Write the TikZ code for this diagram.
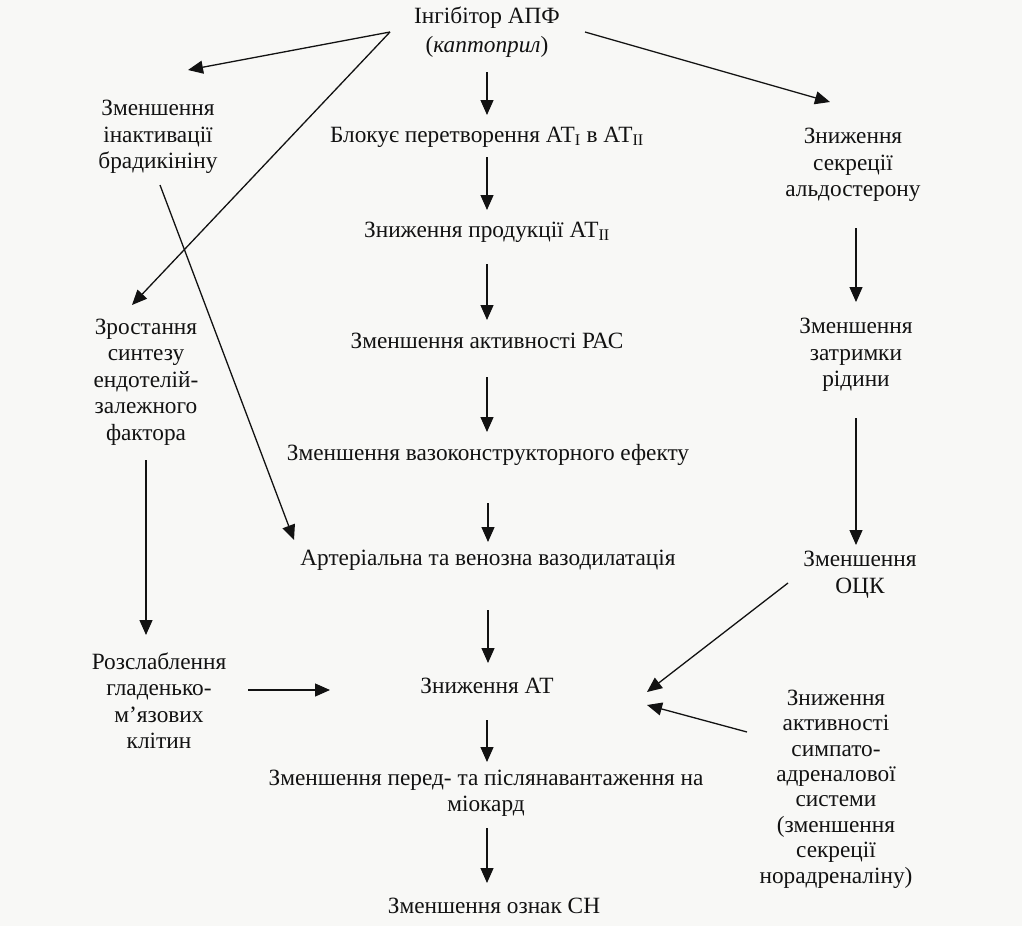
\documentclass[tikz,border=0pt]{standalone}
\usepackage{fontspec}
\setmainfont{Liberation Serif}
\usetikzlibrary{calc,arrows.meta}
\definecolor{ink}{HTML}{121212}
\definecolor{paper}{HTML}{F8F8F6}
\begin{document}
\begin{tikzpicture}[x=1pt,y=-1pt,
  lbl/.style={inner sep=0pt,align=center,text=ink,
    font=\fontsize{23.3}{26.5}\selectfont},
  lblsm/.style={lbl,font=\fontsize{23.3}{25.4}\selectfont},
  arr/.style={draw=ink,line width=1.3pt,-{Triangle[length=15pt,width=13pt]}}]
\fill[paper] (0,0) rectangle (1022,926);
\useasboundingbox (0,0) rectangle (1022,926);

% central chain
\node[lbl] (top)  at (487,32)  {Інгібітор АПФ\\[2pt](\textit{каптоприл})};
\node[lbl] (blok) at (487,137) {Блокує перетворення АТ\textsubscript{I} в АТ\textsubscript{II}};
\node[lbl] (prod) at (487,232) {Зниження продукції АТ\textsubscript{II}};
\node[lbl] (ras)  at (487,341) {Зменшення активності РАС};
\node[lbl] (vaso) at (488,455) {Зменшення вазоконструкторного ефекту};
\node[lbl] (dil)  at (488,560) {Артеріальна та венозна вазодилатація};
\node[lbl] (at)   at (487,686) {Зниження АТ};
\node[lbl] (load) at (486,793) {Зменшення перед- та післянавантаження на\\міокард};
\node[lbl] (cn)   at (494,906) {Зменшення ознак СН};

% left branch
\node[lbl] (inakt) at (158,137) {Зменшення\\інактивації\\брадикініну};
\node[lbl] (rost)  at (146,382) {Зростання\\синтезу\\ендотелій-\\залежного\\фактора};
\node[lbl] (rozsl) at (159,701) {Розслаблення\\гладенько-\\м’язових\\клітин};

% right branch
\node[lbl] (aldo) at (853,165) {Зниження\\секреції\\альдостерону};
\node[lbl] (zatr) at (856,355) {Зменшення\\затримки\\рідини};
\node[lbl] (ock)  at (860,575) {Зменшення\\ОЦК};
\node[lblsm] (symp) at (836,789) {Зниження\\активності\\симпато-\\адреналової\\системи\\(зменшення\\секреції\\норадреналіну)};

% junction points beside the top node
\coordinate (apexL) at ($(top.center)+(-97,0)$);
\coordinate (apexR) at ($(top.center)+(98,0)$);

% vertical chain arrows
\path[arr,shorten <=40pt,shorten >=22pt] (top.center) -- (top.center |- blok.center);
\path[arr,shorten <=20pt,shorten >=22pt] (blok.center -| prod.center) -- (prod.center);
\path[arr,shorten <=32pt,shorten >=21pt] (prod.center) -- (ras.center);
\path[arr,shorten <=36pt,shorten >=23pt] (ras.center) -- (ras.center |- vaso.center);
\path[arr,shorten <=48pt,shorten >=18pt] (vaso.center) -- (vaso.center |- dil.center);
\path[arr,shorten <=50pt,shorten >=23pt] (dil.center) -- (dil.center |- at.center);
\path[arr,shorten <=34pt,shorten >=31pt] (at.center) -- (at.center |- load.center);
\path[arr,shorten <=35pt,shorten >=23pt] (at.center |- load.center) -- (at.center |- cn.center);

% left side
\path[arr] (apexL) -- ($(inakt.center)+(30,-67)$);
\path[arr] (apexL) -- ($(rost.center)+(-14,-77)$);
\path[arr] ($(inakt.center)+(2,48)$) -- ($(dil.center)+(-194,-20)$);
\path[arr] ($(rost.center)+(0,78)$) -- ($(rozsl.center)+(-13,-66)$);
\path[arr] ($(rozsl.center)+(89,-11)$) -- ($(at.center)+(-157,4)$);

% right side
\path[arr] (apexR) -- ($(aldo.center)+(-23,-63)$);
\path[arr,shorten <=63pt,shorten >=53pt] (aldo.center -| zatr.center) -- (zatr.center);
\path[arr,shorten <=63pt,shorten >=30pt] (zatr.center) -- (zatr.center |- ock.center);
\path[arr] ($(ock.center)+(-72,8)$) -- ($(at.center)+(160,6)$);
\path[arr] ($(symp.center)+(-89,-57)$) -- ($(at.center)+(160,19)$);
\end{tikzpicture}
\end{document}
